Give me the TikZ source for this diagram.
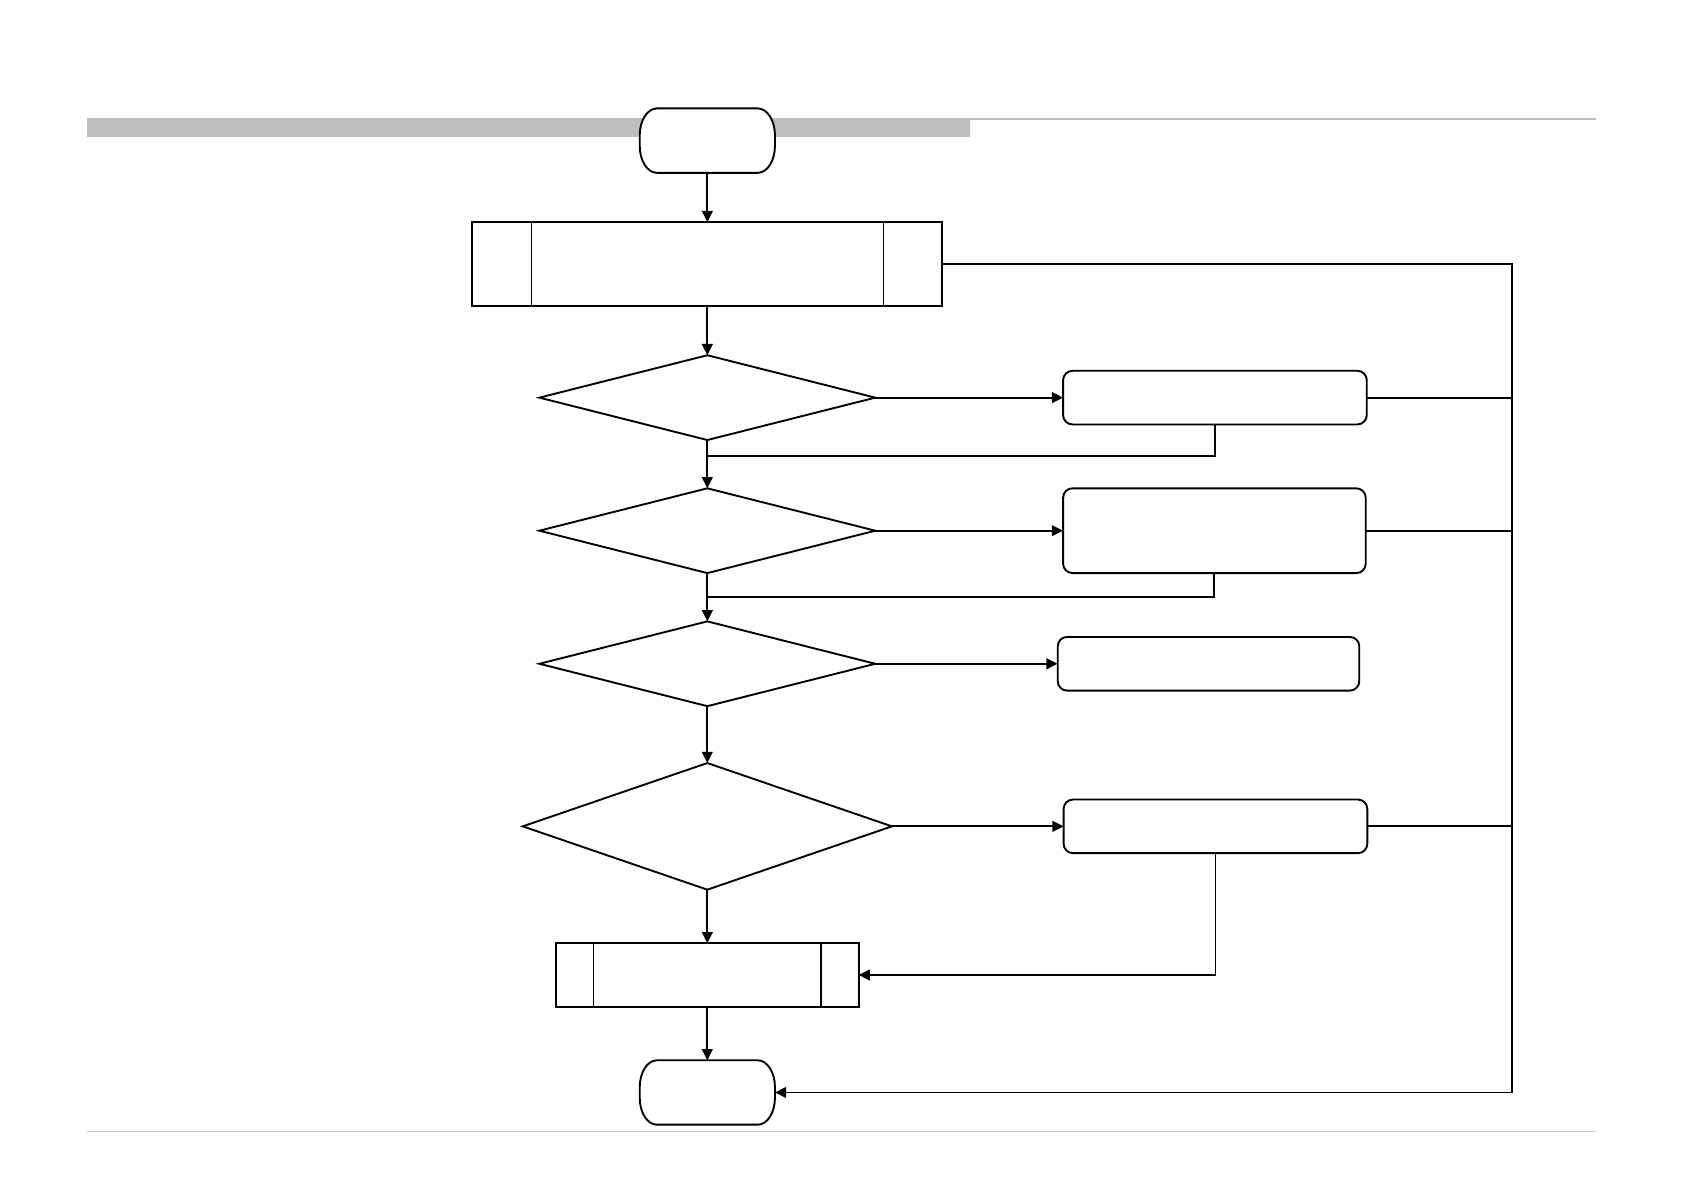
\documentclass[tikz,border=0pt]{standalone}
\usepackage{xcolor}
\usepackage{tikz}
\usetikzlibrary{arrows.meta,positioning,calc,shapes.geometric}
\tikzset{
	term/.style={rectangle, minimum width=2.52cm, minimum height=1.2cm, inner sep=0pt, outer sep=0pt},
	termline/.style={draw, fill=white, line width=1pt},
	subproc/.style={draw, rectangle, line width=1pt, inner sep=0pt, outer sep=0pt},
	decide/.style={draw, diamond, line width=1pt, inner sep=0pt, outer sep=0pt,
		minimum width=6.26cm, minimum height=1.58cm},
	actbox/.style={draw, rounded corners=5pt, line width=1pt, inner sep=0pt, outer sep=0pt,
		minimum width=5.64cm, minimum height=1cm},
	line/.style={line width=1pt},
	arrow/.style={-{Triangle[length=2.1mm,width=2mm]}, line width=1pt}
}
\begin{document}
\begin{tikzpicture}[x=0.02cm, y=-0.02cm]
	\useasboundingbox (0,0) rectangle (1568,1110);
	
	%% -- page header and footer rules
	\fill[gray!50] (81,110) rectangle (904,128);
	\draw[gray!50, line width=1pt] (904,110.5) -- (1487,110.5);
	\draw[gray!40, line width=0.6pt] (81,1054) -- (1487,1054);
	
	%% -- main column
	\node[term] (start) at (659,131) {};
	\node[subproc, minimum width=8.76cm, minimum height=1.56cm, below=0.92cm of start] (init) {};
	\node[decide, below=0.92cm of init] (d1) {};
	\node[decide, below=0.9cm of d1] (d2) {};
	\node[decide, below=0.9cm of d2] (d3) {};
	\node[decide, minimum width=6.88cm, minimum height=2.36cm, below=1.06cm of d3] (d4) {};
	\node[subproc, minimum width=5.64cm, minimum height=1.18cm, below=1cm of d4] (fin) {};
	\node[term, below=1cm of fin] (end) {};
	
	%% -- side boxes
	\node[actbox, minimum width=5.66cm, right=3.5cm of d1] (a1) {};
	\node[actbox, minimum height=1.58cm, right=3.5cm of d2] (a2) {};
	\node[actbox, minimum width=5.62cm, right=3.4cm of d3] (a3) {};
	\node[actbox, minimum width=5.66cm, right=3.2cm of d4] (a4) {};
	
	%% -- terminal outlines (flat top and bottom, bulging sides)
	\foreach \n in {start,end}
	\draw[termline] ([xshift=0.32cm]\n.north west) -- ([xshift=-0.32cm]\n.north east)
	arc[start angle=90, end angle=0, x radius=0.32cm, y radius=0.5cm] -- ++(0,-0.2cm)
	arc[start angle=0, end angle=-90, x radius=0.32cm, y radius=0.5cm]
	-- ([xshift=0.32cm]\n.south west)
	arc[start angle=270, end angle=180, x radius=0.32cm, y radius=0.5cm] -- ++(0,0.2cm)
	arc[start angle=180, end angle=90, x radius=0.32cm, y radius=0.5cm] -- cycle;
	
	%% -- inner bars of the subprocess boxes
	\draw[line width=0.7pt] ([xshift=1.1cm]init.north west) -- ([xshift=1.1cm]init.south west);
	\draw[line width=0.7pt] ([xshift=-1.1cm]init.north east) -- ([xshift=-1.1cm]init.south east);
	\draw[line width=0.7pt] ([xshift=0.7cm]fin.north west) -- ([xshift=0.7cm]fin.south west);
	\draw[line width=0.7pt] ([xshift=-0.7cm]fin.north east) -- ([xshift=-0.7cm]fin.south east);
	
	%% -- helper points
	\coordinate (bus) at (1409,0);
	\coordinate[below=3mm of d1.south] (m1);
	\coordinate[below=4.4mm of d2.south] (m2);
	
	%% -- main flow
	\draw[arrow] (start) -- (init);
	\draw[arrow] (init) -- (d1);
	\draw[arrow] (d1) -- (d2);
	\draw[arrow] (d2) -- (d3);
	\draw[arrow] (d3) -- (d4);
	\draw[arrow] (d4) -- (fin);
	\draw[arrow] (fin) -- (end);
	
	%% -- branches to the right
	\draw[arrow] (d1.east) -- (a1.west);
	\draw[arrow] (d2.east) -- (a2.west);
	\draw[arrow] (d3.east) -- (a3.west);
	\draw[arrow] (d4.east) -- (a4.west);
	
	%% -- returns to the main column
	\draw[line] (a1.south) |- (m1);
	\draw[line] (a2.south) |- (m2);
	\draw[arrow] (a4.south) |- (fin.east);
	
	%% -- exit bus on the right
	\draw[arrow] (init.east) -- (init.east -| bus) |- (end.east);
	\draw[line] (a1.east) -- (a1.east -| bus);
	\draw[line] (a2.east) -- (a2.east -| bus);
	\draw[line] (a4.east) -- (a4.east -| bus);
	
\end{tikzpicture}
\end{document}
